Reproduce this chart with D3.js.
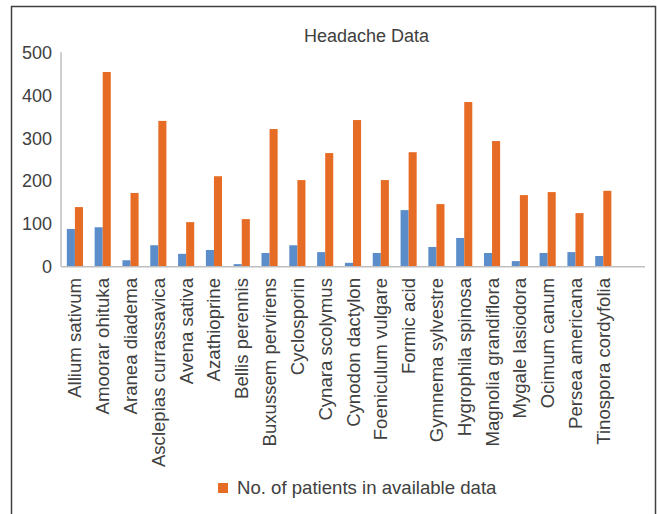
<!DOCTYPE html>
<html>
<head>
<meta charset="utf-8">
<script src="https://cdn.jsdelivr.net/npm/d3@7"></script>
<style>
  body { margin: 0; background: #fff; }
  text { font-family: "Liberation Sans", Arial, sans-serif; fill: #404040; }
</style>
</head>
<body>
<svg id="chart"></svg>
<script>
// données
const categories = ["Allium sativum", "Amoorar ohituka", "Aranea diadema", "Asclepias currassavica",
  "Avena sativa", "Azathioprine", "Bellis perennis", "Buxussem pervirens", "Cyclosporin",
  "Cynara scolymus", "Cynodon dactylon", "Foeniculum vulgare", "Formic acid", "Gymnema sylvestre",
  "Hygrophila spinosa", "Magnolia grandiflora", "Mygale lasiodora", "Ocimum canum",
  "Persea americana", "Tinospora cordyfolia"];
const blueValues = [88, 92, 15, 50, 30, 39, 6, 32, 50, 34, 9, 32, 132, 46, 67, 32, 13, 32, 34, 25];
const orangeValues = [139, 454, 172, 340, 104, 211, 111, 321, 202, 265, 342, 202, 267, 146, 384, 293, 167, 174, 125, 177];
const yTicks = [0, 100, 200, 300, 400, 500];
const legendLabel = "No. of patients in available data";

const W = 657, H = 514;
const svg = d3.select("#chart").attr("width", W).attr("height", H);

// cadre
svg.append("rect")
  .attr("x", 11.5).attr("y", 6.5)
  .attr("width", 644).attr("height", 530)
  .attr("fill", "none").attr("stroke", "#404040").attr("stroke-width", 1.5);

svg.append("text")
  .attr("x", 366.5).attr("y", 42)
  .attr("text-anchor", "middle")
  .style("font-size", "18px")
  .text("Headache Data");

const plotL = 61, plotR = 645, plotT = 52.3, plotB = 266.7;

// une case vide en fin d'axe, comme dans Excel
const x = d3.scaleBand().domain(categories.concat([" "])).range([plotL, plotR]);
const y = d3.scaleLinear().domain([0, 500]).range([plotB, plotT]);
const barW = x.bandwidth() * 0.29;

// axe y
svg.append("line")
  .attr("x1", plotL).attr("x2", plotL).attr("y1", plotT).attr("y2", plotB)
  .attr("stroke", "#bfbfbf").attr("stroke-width", 1.5);

svg.selectAll(".ytick")
  .data(yTicks)
  .enter().append("text")
  .attr("class", "ytick")
  .attr("x", 52).attr("y", d => y(d))
  .attr("dy", "0.36em")
  .attr("text-anchor", "end")
  .style("font-size", "18px")
  .text(d => d);

const rows = categories.map((c, i) => ({c: c, b: blueValues[i], o: orangeValues[i]}));

svg.selectAll(".blue")
  .data(rows)
  .enter().append("rect")
  .attr("x", d => x(d.c) + x.bandwidth() / 2 - barW)
  .attr("y", d => y(d.b))
  .attr("width", barW)
  .attr("height", d => plotB - y(d.b))
  .attr("fill", "#5A8DC9");

svg.selectAll(".orange")
  .data(rows)
  .enter().append("rect")
  .attr("x", d => x(d.c) + x.bandwidth() / 2)
  .attr("y", d => y(d.o))
  .attr("width", barW)
  .attr("height", d => plotB - y(d.o))
  .attr("fill", "#E66C26");

// ligne de base
svg.append("line")
  .attr("x1", plotL).attr("x2", plotR).attr("y1", plotB).attr("y2", plotB)
  .attr("stroke", "#bfbfbf").attr("stroke-width", 1.5);

// étiquettes x tournées
svg.selectAll(".xlab")
  .data(categories)
  .enter().append("text")
  .attr("transform", d => `translate(${x(d) + x.bandwidth() / 2},278) rotate(-90)`)
  .attr("dy", "0.35em")
  .attr("text-anchor", "end")
  .style("font-size", "18.6px")
  .text(d => d);

// légende
svg.append("rect")
  .attr("x", 218).attr("y", 483).attr("width", 10).attr("height", 10)
  .attr("fill", "#E66C26");
svg.append("text")
  .attr("x", 237).attr("y", 494)
  .style("font-size", "18.6px")
  .text(legendLabel);
</script>
</body>
</html>
